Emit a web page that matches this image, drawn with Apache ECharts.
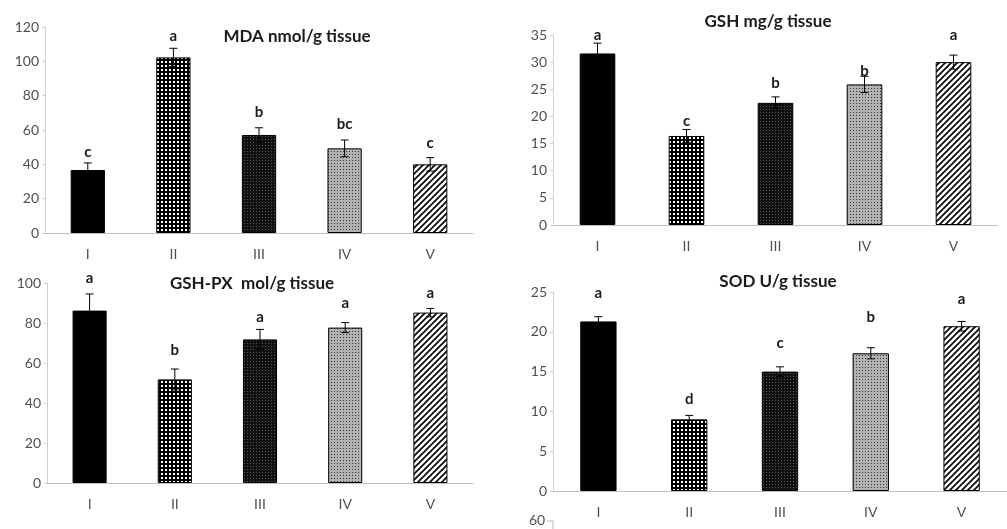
<!DOCTYPE html>
<html>
<head>
<meta charset="utf-8">
<script src="https://cdn.jsdelivr.net/npm/echarts@6/dist/echarts.min.js"></script>
<style>
  html, body { margin: 0; background: #fff; }
  #chart { width: 1007px; height: 529px; }
</style>
</head>
<body>
<div id="chart"></div>
<script>
const groups = ['I', 'II', 'III', 'IV', 'V'];

const mdaMean = [36.7, 102.3, 57.1, 49.3, 40.0];
const mdaErr = [4.1, 5.3, 4.2, 4.9, 3.9];
const mdaLetters = ['c', 'a', 'b', 'bc', 'c'];
const mdaLetterAt = [47.2, 114.8, 70.5, 63.5, 52.4];

const gshMean = [31.6, 16.4, 22.5, 25.9, 30.0];
const gshErr = [1.9, 1.2, 1.1, 1.5, 1.3];
const gshLetters = ['a', 'c', 'b', 'b', 'a'];
const gshLetterAt = [35.0, 19.2, 26.2, 28.4, 35.0];

const gpxMean = [86.2, 51.8, 71.8, 77.7, 85.2];
const gpxErr = [8.3, 5.2, 5.0, 2.5, 2.1];
const gpxLetters = ['a', 'b', 'a', 'a', 'a'];
const gpxLetterAt = [102.5, 66.5, 83.0, 90.0, 95.0];

const sodMean = [21.3, 9.0, 15.0, 17.3, 20.7];
const sodErr = [0.6, 0.5, 0.6, 0.7, 0.6];
const sodLetters = ['a', 'd', 'c', 'b', 'a'];
const sodLetterAt = [24.9, 11.5, 18.6, 21.8, 24.1];

// small canvas tiles used as bar fill patterns
function tile(size, draw) {
  const c = document.createElement('canvas');
  c.width = size; c.height = size;
  const ctx = c.getContext('2d');
  draw(ctx, size);
  return { image: c, repeat: 'repeat' };
}
const fills = [
  '#000',
  tile(4, function (ctx) {
    ctx.fillStyle = '#000'; ctx.fillRect(0, 0, 4, 4);
    ctx.fillStyle = '#fff'; ctx.fillRect(1, 1, 2, 2);
  }),
  tile(3, function (ctx) {
    ctx.fillStyle = '#111'; ctx.fillRect(0, 0, 3, 3);
    ctx.fillStyle = '#555'; ctx.fillRect(1, 1, 1, 1);
  }),
  tile(3, function (ctx) {
    ctx.fillStyle = '#b2b2b2'; ctx.fillRect(0, 0, 3, 3);
    ctx.fillStyle = '#333'; ctx.fillRect(1, 1, 1, 1);
  }),
  tile(6, function (ctx) {
    ctx.fillStyle = '#fff'; ctx.fillRect(0, 0, 6, 6);
    ctx.strokeStyle = '#000'; ctx.lineWidth = 1.6;
    ctx.beginPath();
    ctx.moveTo(-1, 7); ctx.lineTo(7, -1);
    ctx.moveTo(-4, 4); ctx.lineTo(4, -4);
    ctx.moveTo(2, 10); ctx.lineTo(10, 2);
    ctx.stroke();
  })
];

const panels = [
  { title: 'MDA nmol/g tissue', mean: mdaMean, err: mdaErr, letters: mdaLetters, at: mdaLetterAt, max: 120, step: 20,
    grid: { left: 45, top: 27, width: 428, height: 206 }, titlePos: [292, 33] },
  { title: 'GSH mg/g tissue', mean: gshMean, err: gshErr, letters: gshLetters, at: gshLetterAt, max: 35, step: 5,
    grid: { left: 553, top: 35, width: 445, height: 190 }, titlePos: [763, 18] },
  { title: 'GSH-PX  mol/g tissue', mean: gpxMean, err: gpxErr, letters: gpxLetters, at: gpxLetterAt, max: 100, step: 20,
    grid: { left: 47, top: 283, width: 426, height: 200 }, titlePos: [247, 280] },
  { title: 'SOD U/g tissue', mean: sodMean, err: sodErr, letters: sodLetters, at: sodLetterAt, max: 25, step: 5,
    grid: { left: 553, top: 292, width: 465, height: 199 }, titlePos: [773, 278] }
];

const font = 'Lato, "Open Sans", sans-serif';
const chart = echarts.init(document.getElementById('chart'), null, { renderer: 'canvas' });

const option = {
  animation: false,
  title: [], grid: [], xAxis: [], yAxis: [], series: [],
  graphic: [
    { type: 'text', left: 529, top: 513, style: { text: '60', font: '14px ' + font, fill: '#505050' } },
    { type: 'line', shape: { x1: 547, y1: 521, x2: 553, y2: 521 }, style: { stroke: '#bbb', lineWidth: 1 } },
    { type: 'line', shape: { x1: 553, y1: 521, x2: 553, y2: 529 }, style: { stroke: '#bbb', lineWidth: 1 } }
  ]
};

panels.forEach(function (p, k) {
  option.title.push({
    text: p.title, left: p.titlePos[0], top: p.titlePos[1] - 10, textAlign: 'center',
    textStyle: { fontFamily: font, fontWeight: 'bold', fontSize: 17, color: '#1a1a1a' }
  });
  option.grid.push(p.grid);
  option.xAxis.push({
    type: 'category', gridIndex: k, data: groups,
    axisLine: { lineStyle: { color: '#bfbfbf' } },
    axisTick: { length: 4, lineStyle: { color: '#bfbfbf' } },
    axisLabel: { color: '#505050', fontFamily: font, fontSize: 14, margin: 14 }
  });
  option.yAxis.push({
    type: 'value', gridIndex: k, min: 0, max: p.max, interval: p.step,
    axisLine: { show: true, lineStyle: { color: '#d0d0d0' } },
    axisTick: { show: true, length: 3, lineStyle: { color: '#d0d0d0' } },
    splitLine: { show: false },
    axisLabel: { color: '#505050', fontFamily: font, fontSize: 14, margin: 6 }
  });
  option.series.push({
    type: 'bar', xAxisIndex: k, yAxisIndex: k, barWidth: '40%',
    data: p.mean.map(function (v, i) {
      return { value: v, itemStyle: { color: fills[i], borderColor: '#000', borderWidth: 1 } };
    })
  });
  option.series.push({
    type: 'custom', xAxisIndex: k, yAxisIndex: k, clip: false, z: 5,
    encode: { x: 0, y: 1 },
    data: p.mean.map(function (v, i) { return [i, v, p.err[i], p.at[i], p.letters[i]]; }),
    renderItem: function (params, api) {
      const i = api.value(0), v = api.value(1), e = api.value(2);
      const top = api.coord([i, v + e]);
      const bot = api.coord([i, v - e]);
      const lab = api.coord([i, api.value(3)]);
      const st = { stroke: '#000', lineWidth: 1 };
      return {
        type: 'group',
        children: [
          { type: 'line', shape: { x1: top[0], y1: top[1], x2: bot[0], y2: bot[1] }, style: st },
          { type: 'line', shape: { x1: top[0] - 4, y1: top[1], x2: top[0] + 4, y2: top[1] }, style: st },
          { type: 'line', shape: { x1: bot[0] - 4, y1: bot[1], x2: bot[0] + 4, y2: bot[1] }, style: st },
          { type: 'text', style: {
              x: lab[0], y: lab[1], text: p.letters[params.dataIndex],
              align: 'center', verticalAlign: 'middle',
              font: 'bold 15px ' + font, fill: '#1a1a1a'
          } }
        ]
      };
    }
  });
});

chart.setOption(option);
</script>
</body>
</html>
